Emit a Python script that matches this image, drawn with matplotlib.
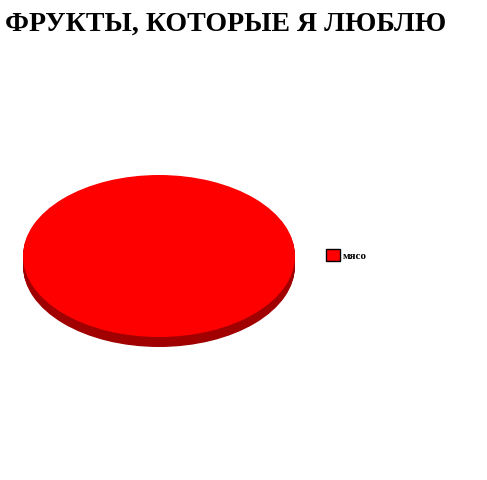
import numpy as np
import matplotlib
matplotlib.use("Agg")
import matplotlib.pyplot as plt
from matplotlib.patches import Patch

labels = ["мясо"]
values = [100]
colors = ["#fe0000"]
side_color = "#a00000"
title = "ФРУКТЫ, КОТОРЫЕ Я ЛЮБЛЮ"

fig = plt.figure(figsize=(4.87, 4.80), dpi=100)
fig.patch.set_facecolor("white")

depth = 10 / 81.0
ax = fig.add_axes([23 / 487, 1 - 347 / 480, 272 / 487, 172 / 480])

# side of the disc: stacked darker copies
for k in range(12, 0, -1):
    ax.pie(values, colors=[side_color], radius=1, center=(0, -depth * k / 12),
           startangle=90, wedgeprops=dict(linewidth=0), frame=True)
ax.pie(values, colors=colors, radius=1, center=(0, 0), startangle=90,
       wedgeprops=dict(linewidth=0), frame=True)
ax.set_aspect("auto")
ax.set_xlim(-1, 1)
ax.set_ylim(-1 - depth, 1)
ax.axis("off")

handles = [Patch(facecolor=c, edgecolor="black", linewidth=1.0) for c in colors]
fig.legend(handles, labels, loc="center left", bbox_to_anchor=(326 / 487, 1 - 255 / 480),
           frameon=False, borderpad=0, borderaxespad=0, handlelength=1.3, handleheight=1.3,
           handletextpad=0.2, prop=dict(family="Liberation Serif", weight="bold", size=8))

fig.text(5 / 487, 1 - 24 / 480, title, ha="left", va="center",
         fontfamily="Liberation Serif", fontweight="bold", fontsize=20.1)

fig.savefig("out.png", dpi=100)
